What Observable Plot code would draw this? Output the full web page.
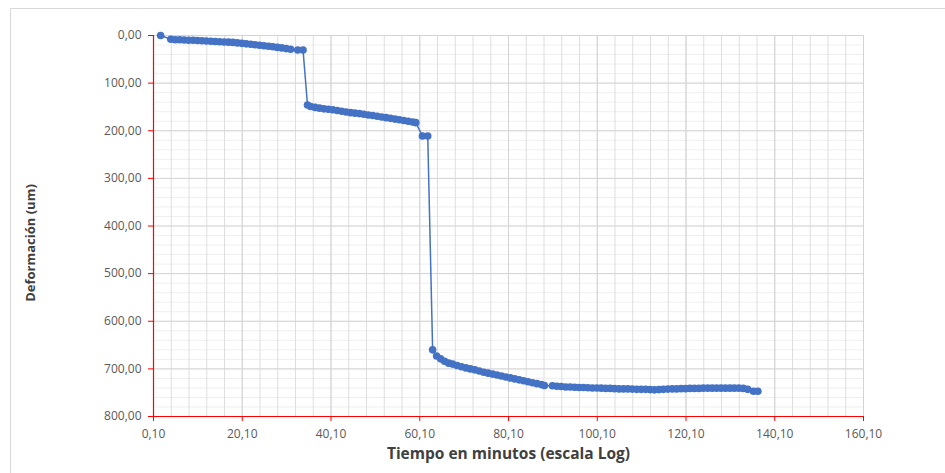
<!DOCTYPE html>
<html>
<head>
<meta charset="utf-8">
<script src="https://cdn.jsdelivr.net/npm/d3@7"></script>
<script src="https://cdn.jsdelivr.net/npm/@observablehq/plot@0.6"></script>
<style>
  html, body { margin: 0; padding: 0; background: #fff; }
  #wrap { position: relative; width: 945px; height: 473px; overflow: hidden; }
  #frame { position: absolute; left: 10px; top: 8px; width: 960px; height: 480px;
           border-left: 1px solid #d9d9d9; border-top: 1px solid #d9d9d9; pointer-events: none; }
  #chart { position: absolute; left: 0; top: 0; }
</style>
</head>
<body>
<div id="wrap"><div id="frame"></div><div id="chart"></div></div>
<script>
// ---- data ----
const tiempo = [
  1.7,
  4, 5, 6, 7, 8, 9, 10, 11, 12, 13, 14, 15, 16, 17, 18, 19, 20, 21, 22, 23, 24, 25, 26, 27, 28, 29, 30, 31,
  32.6, 33.8,
  34.8, 35.5, 36.5, 37.5, 38.5, 39.5, 40.5, 41.5, 42.5, 43.5, 44.5, 45.5, 46.5, 47.5, 48.5, 49.5, 50.5, 51.5, 52.5, 53.5, 54.5, 55.5, 56.5, 57.5, 58.5, 59.2,
  60.7, 61.9,
  63.0, 63.9, 64.8, 65.7, 66.6, 67.5, 68.5, 69.5, 70.5, 71.5, 72.5, 73.5, 74.5, 75.5, 76.5, 77.5, 78.5, 79.5, 80.5, 81.5, 82.5, 83.5, 84.5, 85.5, 86.5, 87.5, 88.2,
  90, 91, 92, 93, 94, 95, 96, 97, 98, 99, 100, 101, 102, 103, 104, 105, 106, 107, 108, 109, 110, 111, 112, 113, 114, 115, 116, 117, 118, 119, 120,
  121, 122, 123, 124, 125, 126, 127, 128, 129, 130, 131, 132, 133, 134, 135.3, 136.3
];
const deformacion = [
  0,
  8, 9, 9, 9.5, 10, 10, 10.5, 11, 11.5, 12, 12.5, 13, 13.5, 14, 14.5, 15.5, 16.5, 17.5, 18.5, 19.5, 20.5, 21.5, 22.5, 23.5, 25, 26, 27.5, 29,
  30.5, 30.5,
  146, 149, 151, 152.5, 154, 155, 156, 157.5, 159, 160.5, 162, 163, 164, 165.5, 167, 168, 169.5, 171, 172.5, 174, 175.5, 177, 178.5, 180, 181.5, 183,
  211, 211,
  660, 673, 679, 684, 688, 690, 693, 695.5, 698, 700, 702, 704.5, 707, 709, 711, 713, 715, 717, 719, 721, 723, 725, 727, 729, 731, 733, 735,
  735.5, 736.5, 737, 738, 738, 738.5, 739, 739, 739.5, 740, 740, 740.5, 741, 741, 741.5, 742, 742, 742, 742.5, 743, 743, 743, 743.5, 744, 743.5, 743, 742.5, 742, 742, 741.5, 741.5,
  741, 741, 741, 740.5, 740.5, 740.5, 740.5, 740.5, 740.5, 740.5, 740.5, 740.5, 741, 743, 747, 747
];
const xTicks = [0.1, 20.1, 40.1, 60.1, 80.1, 100.1, 120.1, 140.1, 160.1];
const yTicks = [0, 100, 200, 300, 400, 500, 600, 700, 800];
const xMinor = d3.range(0, 41).map(i => 0.1 + i * 4);
const yMinor = d3.range(0, 41).map(i => i * 20);
const xLabel = "Tiempo en minutos (escala Log)";
const yLabel = "Deformación (um)";

const data = tiempo.map((t, i) => ({t, d: deformacion[i]}));
const fmt = v => v.toFixed(2).replace(".", ",");
const font = "'Open Sans', sans-serif";

const chart = Plot.plot({
  width: 945,
  height: 473,
  marginLeft: 153,
  marginRight: 82,
  marginTop: 35,
  marginBottom: 57,
  style: {fontFamily: font, fontSize: "12px", background: "transparent", overflow: "visible"},
  x: {domain: [0.1, 160.1], axis: null},
  y: {domain: [0, 800], reverse: true, axis: null},
  marks: [
    Plot.ruleY(yMinor, {stroke: "#efefef", strokeWidth: 1}),
    Plot.ruleX(xMinor, {stroke: "#dedede", strokeWidth: 1}),
    Plot.ruleY(yTicks, {stroke: "#d4d4d4", strokeWidth: 1}),
    Plot.ruleX(xTicks, {stroke: "#d4d4d4", strokeWidth: 1}),
    Plot.axisY({ticks: yTicks, tickSize: 5, tickPadding: 7, tickFormat: fmt, stroke: "#ff0000", fill: "#595959", label: null, fontSize: 12}),
    Plot.axisX({ticks: xTicks, tickSize: 5, tickPadding: 8, tickFormat: fmt, stroke: "#ff0000", fill: "#595959", label: null, fontSize: 12}),
    Plot.ruleX([0.1], {stroke: "#ff0000", strokeWidth: 1.2}),
    Plot.ruleY([800], {stroke: "#ff0000", strokeWidth: 1.2}),
    Plot.line(data, {x: "t", y: "d", stroke: "#4472C4", strokeWidth: 1.5}),
    Plot.dot(data, {x: "t", y: "d", r: 3.8, fill: "#4472C4", stroke: "none"}),
    Plot.text([yLabel], {frameAnchor: "left", textAnchor: "middle", dx: -123, dy: 17, rotate: -90, fontWeight: "bold", fontSize: 13, fill: "#404040"}),
    Plot.text([xLabel], {frameAnchor: "bottom", textAnchor: "middle", dy: 42, fontWeight: "bold", fontSize: 15.5, fill: "#404040"})
  ]
});
document.getElementById("chart").appendChild(chart);
</script>
</body>
</html>
